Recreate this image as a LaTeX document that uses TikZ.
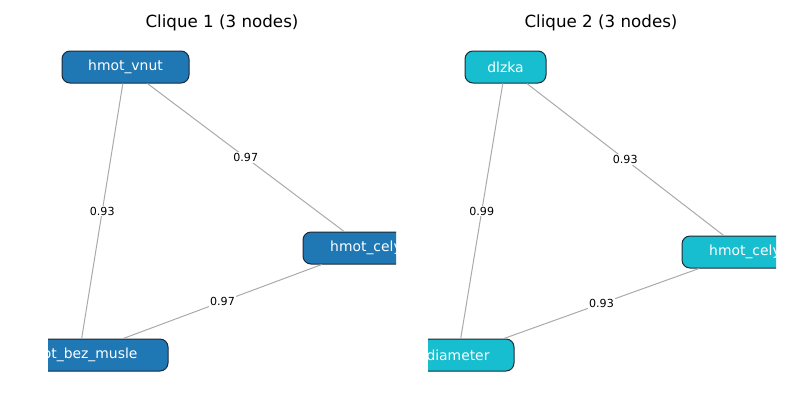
\documentclass[tikz,border=0pt]{standalone}
\usepackage{fontspec}
\setmainfont{DejaVu Sans}
\definecolor{nblue}{HTML}{1F77B4}
\definecolor{ncyan}{HTML}{17BECF}
\definecolor{nedge}{HTML}{AAAAAA}
\definecolor{nborder}{HTML}{1E2A38}
\tikzset{
  nodebox/.style={rounded corners=8pt, draw=nborder, line width=1pt, text=white,
    font=\fontsize{13.9}{16}\selectfont, minimum height=32pt, inner xsep=0pt, inner ysep=0pt},
  bluebox/.style={nodebox, fill=nblue},
  cyanbox/.style={nodebox, fill=ncyan},
  edgeline/.style={draw=nedge, line width=1pt},
  wlabel/.style={fill=white, inner sep=1pt, font=\fontsize{11.1}{12}\selectfont, text=black},
  titletext/.style={font=\fontsize{16.7}{19}\selectfont, text=black}
}
\begin{document}
\begin{tikzpicture}[x=1pt,y=-1pt]
\useasboundingbox (0,0) rectangle (800,400);
\fill[white] (0,0) rectangle (800,400);

\node[titletext] (t1) at (222,23) {Clique 1 (3 nodes)};
\node[titletext] (t2) at (601,23) {Clique 2 (3 nodes)};

\begin{scope}
  \clip (48,38) rectangle (396,394);
  \node[bluebox, minimum width=127pt] (a1) at (125.5,67) {hmot\_vnut};
  \node[bluebox, minimum width=126pt] (b1) at (366,248) {hmot\_cely};
  \node[bluebox, minimum width=178pt] (c1) at (79,355) {hmot\_bez\_musle};
  \draw[edgeline] (a1) -- (b1);
  \draw[edgeline] (a1) -- (c1);
  \draw[edgeline] (b1) -- (c1);
  \path (a1.center) -- node[wlabel] (l11) {0.97} (b1.center);
  \path (a1.center) -- node[wlabel] (l12) {0.93} (c1.center);
  \path (b1.center) -- node[wlabel] (l13) {0.97} (c1.center);
\end{scope}

\begin{scope}
  \clip (428,38) rectangle (776,394);
  \node[cyanbox, minimum width=81pt] (a2) at (505.5,67) {dlzka};
  \node[cyanbox, minimum width=126pt] (b2) at (745,252) {hmot\_cely};
  \node[cyanbox, minimum width=112pt] (c2) at (458,355) {diameter};
  \draw[edgeline] (a2) -- (b2);
  \draw[edgeline] (a2) -- (c2);
  \draw[edgeline] (b2) -- (c2);
  \path (a2.center) -- node[wlabel] (l21) {0.93} (b2.center);
  \path (a2.center) -- node[wlabel] (l22) {0.99} (c2.center);
  \path (b2.center) -- node[wlabel] (l23) {0.93} (c2.center);
\end{scope}
\end{tikzpicture}
\end{document}
